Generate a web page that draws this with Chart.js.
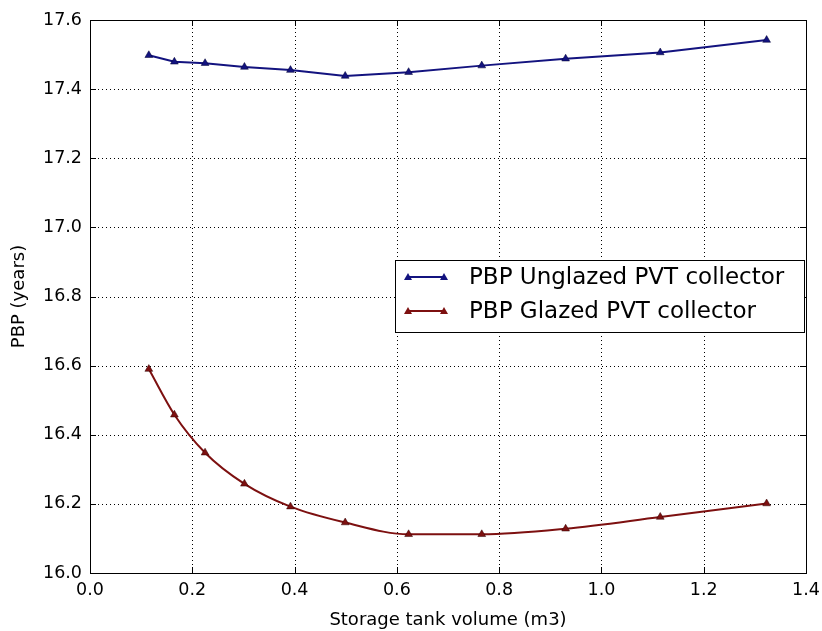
<!DOCTYPE html>
<html>
<head>
<meta charset="utf-8">
<script src="https://cdn.jsdelivr.net/npm/chart.js@4"></script>
<style>
  html, body { margin: 0; padding: 0; background: #fff; }
  #wrap { width: 822px; height: 631px; }
</style>
</head>
<body>
<div id="wrap"><canvas id="chart"></canvas></div>
<script>
const volumes = [0.115, 0.165, 0.225, 0.302, 0.392, 0.499, 0.623, 0.766, 0.930, 1.115, 1.323];
const unglazedPBP = [17.498, 17.479, 17.475, 17.464, 17.455, 17.438, 17.449, 17.468, 17.488, 17.506, 17.542];
const glazedPBP = [16.590, 16.458, 16.348, 16.258, 16.192, 16.146, 16.112, 16.112, 16.128, 16.162, 16.201];
const seriesNames = ['PBP Unglazed PVT collector', 'PBP Glazed PVT collector'];
const xTitle = 'Storage tank volume (m3)';
const yTitle = 'PBP (years)';

const FONT = '"DejaVu Sans", sans-serif';
const colUnglazed = '#13137f';
const colGlazed = '#7d1010';

const toPoints = (xs, ys) => xs.map((x, i) => ({ x: x, y: ys[i] }));

// dotted grid drawn under the data
const gridPlugin = {
    id: 'dotGrid',
    beforeDatasetsDraw(chart) {
        const { ctx, chartArea: a, scales } = chart;
        ctx.save();
        ctx.strokeStyle = '#000';
        ctx.lineWidth = 1;
        ctx.setLineDash([1, 3]);
        ctx.beginPath();
        scales.x.ticks.forEach(t => {
            const px = Math.round(scales.x.getPixelForValue(t.value)) + 0.5;
            ctx.moveTo(px, a.top); ctx.lineTo(px, a.bottom);
        });
        scales.y.ticks.forEach(t => {
            const py = Math.round(scales.y.getPixelForValue(t.value)) + 0.5;
            ctx.moveTo(a.left, py); ctx.lineTo(a.right, py);
        });
        ctx.stroke();
        ctx.restore();
    }
};

// matplotlib-like frame with inward ticks on all sides
const framePlugin = {
    id: 'frame',
    afterDraw(chart) {
        const { ctx, chartArea: a, scales } = chart;
        ctx.save();
        ctx.strokeStyle = '#000';
        ctx.lineWidth = 1;
        ctx.strokeRect(a.left + 0.5, a.top + 0.5, a.right - a.left, a.bottom - a.top);
        ctx.beginPath();
        scales.x.ticks.forEach(t => {
            const px = Math.round(scales.x.getPixelForValue(t.value)) + 0.5;
            ctx.moveTo(px, a.bottom); ctx.lineTo(px, a.bottom - 6);
            ctx.moveTo(px, a.top); ctx.lineTo(px, a.top + 6);
        });
        scales.y.ticks.forEach(t => {
            const py = Math.round(scales.y.getPixelForValue(t.value)) + 0.5;
            ctx.moveTo(a.left, py); ctx.lineTo(a.left + 6, py);
            ctx.moveTo(a.right, py); ctx.lineTo(a.right - 6, py);
        });
        ctx.stroke();
        ctx.restore();
    }
};

// legend box inside the axes, like matplotlib
const legendPlugin = {
    id: 'boxLegend',
    afterDraw(chart) {
        const { ctx } = chart;
        const x0 = 395, y0 = 260, w = 409, h = 72;
        ctx.save();
        ctx.fillStyle = '#fff';
        ctx.fillRect(x0, y0, w, h);
        ctx.strokeStyle = '#000';
        ctx.lineWidth = 1;
        ctx.strokeRect(x0 + 0.5, y0 + 0.5, w, h);
        ctx.font = '23px ' + FONT;
        ctx.textBaseline = 'middle';
        chart.data.datasets.forEach((ds, i) => {
            const yy = y0 + 17 + i * 34;
            ctx.strokeStyle = ds.borderColor;
            ctx.lineWidth = 2;
            ctx.beginPath();
            ctx.moveTo(408, yy); ctx.lineTo(444, yy);
            ctx.stroke();
            [408, 444].forEach(px => {
                ctx.fillStyle = ds.pointBackgroundColor;
                ctx.beginPath();
                ctx.moveTo(px, yy - 4); ctx.lineTo(px + 4, yy + 3); ctx.lineTo(px - 4, yy + 3);
                ctx.closePath();
                ctx.fill();
            });
            ctx.fillStyle = '#000';
            ctx.fillText(ds.label, 469, yy + 1);
        });
        ctx.restore();
    }
};

new Chart(document.getElementById('chart'), {
    type: 'line',
    data: {
        datasets: [
            {
                label: seriesNames[0],
                data: toPoints(volumes, unglazedPBP),
                borderColor: colUnglazed,
                backgroundColor: colUnglazed,
                pointBackgroundColor: colUnglazed,
                pointBorderColor: '#000030',
                pointBorderWidth: 0.5,
                pointStyle: 'triangle',
                pointRadius: 4.5,
                borderWidth: 2,
                tension: 0
            },
            {
                label: seriesNames[1],
                data: toPoints(volumes, glazedPBP),
                borderColor: colGlazed,
                backgroundColor: colGlazed,
                pointBackgroundColor: colGlazed,
                pointBorderColor: '#300000',
                pointBorderWidth: 0.5,
                pointStyle: 'triangle',
                pointRadius: 4.5,
                borderWidth: 2,
                cubicInterpolationMode: 'monotone'
            }
        ]
    },
    options: {
        responsive: true,
        maintainAspectRatio: false,
        animation: false,
        layout: { padding: { top: 20, right: 16, left: 0, bottom: 0 } },
        plugins: {
            legend: { display: false },
            tooltip: { enabled: false }
        },
        scales: {
            x: {
                type: 'linear',
                min: 0, max: 1.4,
                afterFit: s => { s.height = 58; s.paddingLeft = 0; s.paddingRight = 0; },
                ticks: {
                    stepSize: 0.2,
                    padding: 7,
                    color: '#000',
                    font: { family: FONT, size: 17.5 },
                    callback: v => v.toFixed(1)
                },
                grid: { display: false, drawTicks: false },
                border: { display: false },
                title: {
                    display: true,
                    text: xTitle,
                    color: '#000',
                    font: { family: FONT, size: 18 },
                    padding: { top: 4, bottom: 0 }
                }
            },
            y: {
                type: 'linear',
                min: 16.0, max: 17.6,
                afterFit: s => { s.width = 90; s.paddingTop = 0; s.paddingBottom = 0; },
                ticks: {
                    stepSize: 0.2,
                    padding: 8,
                    color: '#000',
                    font: { family: FONT, size: 17.5 },
                    callback: v => v.toFixed(1)
                },
                grid: { display: false, drawTicks: false },
                border: { display: false },
                title: {
                    display: true,
                    text: yTitle,
                    color: '#000',
                    font: { family: FONT, size: 18 },
                    padding: { top: 9, bottom: 0 }
                }
            }
        }
    },
    plugins: [gridPlugin, framePlugin, legendPlugin]
});
</script>
</body>
</html>
